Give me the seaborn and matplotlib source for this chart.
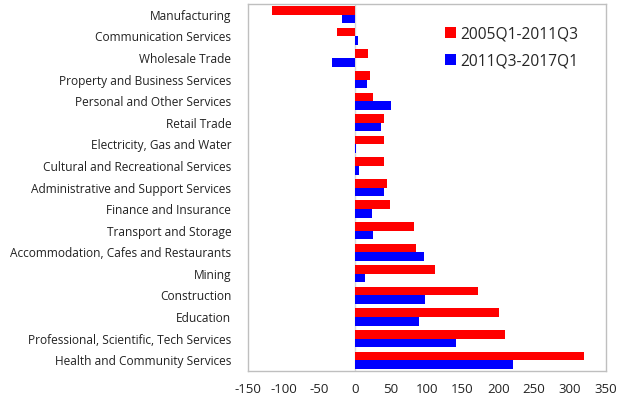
import pandas as pd
import seaborn as sns
import matplotlib.pyplot as plt

# Datos (cambio por sector)
industrias = [
    'Manufacturing', 'Communication Services', 'Wholesale Trade',
    'Property and Business Services', 'Personal and Other Services',
    'Retail Trade', 'Electricity, Gas and Water',
    'Cultural and Recreational Services', 'Administrative and Support Services',
    'Finance and Insurance', 'Transport and Storage',
    'Accommodation, Cafes and Restaurants', 'Mining', 'Construction',
    'Education', 'Professional, Scientific, Tech Services',
    'Health and Community Services',
]
periodo_1 = [-116, -26, 18, 21, 25, 40, 40, 40, 45, 48, 82, 85, 112, 171, 201, 209, 319]
periodo_2 = [-18, 4, -33, 16, 50, 36, 1, 6, 40, 23, 25, 96, 14, 97, 89, 141, 221]
series = ['2005Q1-2011Q3', '2011Q3-2017Q1']

df = pd.DataFrame({
    'Industria': industrias * 2,
    'Valor': periodo_1 + periodo_2,
    'Periodo': [series[0]] * len(industrias) + [series[1]] * len(industrias),
})

sns.set_style('white')
plt.rcParams['font.family'] = ['Open Sans', 'DejaVu Sans']
plt.rcParams['axes.unicode_minus'] = False

fig, ax = plt.subplots(figsize=(6.29, 4.05), dpi=100)
sns.barplot(data=df, y='Industria', x='Valor', hue='Periodo', orient='h',
            palette=['#ff0000', '#0000ff'], saturation=1, width=0.8,
            edgecolor='none', ax=ax)

ax.axvline(0, color='#d9d9d9', lw=1, zorder=0)
ax.set_xlim(-150, 350)
ax.set_xticks(range(-150, 351, 50))
ax.set_xlabel('')
ax.set_ylabel('')
ax.tick_params(axis='x', labelsize=9.5, length=0, pad=9, labelcolor='#222222')
ax.tick_params(axis='y', labelsize=8.6, length=0, pad=12, labelcolor='#222222')
for s in ax.spines.values():
    s.set_color('#bfbfbf')
    s.set_linewidth(1)

ax.legend(loc='upper left', bbox_to_anchor=(0.55, 0.94), frameon=False,
          fontsize=11.2, handlelength=0.7, handleheight=0.7,
          handletextpad=0.3, labelspacing=0.72, borderpad=0, borderaxespad=0)

fig.subplots_adjust(left=0.394, right=0.963, bottom=0.084, top=0.99)
fig.savefig('out.png', dpi=100)
